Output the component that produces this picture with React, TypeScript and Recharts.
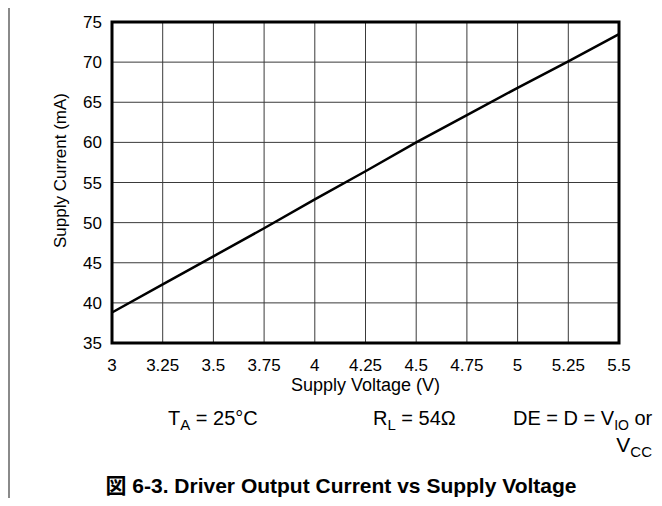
import { LineChart, Line, XAxis, YAxis, CartesianGrid, ReferenceArea } from 'recharts';

// supply voltage (V) and supply current (mA)
const voltage = [3, 3.25, 3.5, 3.75, 4, 4.25, 4.5, 4.75, 5, 5.25, 5.5];
const current = [38.8, 42.3, 45.8, 49.3, 52.9, 56.4, 60.0, 63.4, 66.8, 70.1, 73.5];
const currentTicks = [35, 40, 45, 50, 55, 60, 65, 70, 75];

const FONT = '"Liberation Sans", Arial, "Noto Sans CJK JP", sans-serif';

const sub = { fontSize: 15, position: 'relative' as const, top: 5 };
const subSmall = { fontSize: 14, position: 'relative' as const, top: 5 };

export default function App() {
  const dados = voltage.map((v, i) => ({ v, i: current[i] }));

  return (
    <div style={{ position: 'relative', width: 662, height: 506, margin: -8, background: '#fff', fontFamily: FONT, color: '#000', overflow: 'hidden' }}>
      <div style={{ position: 'absolute', left: 8, right: 0, top: 3, height: 2, background: '#8a8a8a' }} />
      <div style={{ position: 'absolute', left: 8, top: 0, width: 2, height: 506, background: '#8a8a8a' }} />

      <LineChart width={662} height={506} data={dados} margin={{ top: 22, right: 43, bottom: 133, left: 52 }} style={{ position: 'absolute', left: 0, top: 0 }}>
        <CartesianGrid stroke="#3a3a3a" strokeWidth={1} />
        <XAxis
          dataKey="v"
          type="number"
          domain={[3, 5.5]}
          ticks={voltage}
          interval={0}
          tickLine={false}
          axisLine={false}
          tickMargin={10}
          height={30}
          tick={{ fill: '#000', fontSize: 17, fontFamily: FONT }}
          label={{ value: 'Supply Voltage (V)', position: 'bottom', offset: 5, fill: '#000', fontSize: 18, fontFamily: FONT }}
        />
        <YAxis
          type="number"
          domain={[35, 75]}
          ticks={currentTicks}
          interval={0}
          tickLine={false}
          axisLine={false}
          tickMargin={4}
          width={60}
          tick={{ fill: '#000', fontSize: 17, fontFamily: FONT }}
          label={{
            content: ({ viewBox }: any) => {
              const cx = viewBox.x + 8;
              const cy = viewBox.y + viewBox.height / 2 - 12;
              return (
                <text x={cx} y={cy} transform={`rotate(-90, ${cx}, ${cy})`} textAnchor="middle" dominantBaseline="central" fontSize={17} fontFamily={FONT} fill="#000">
                  Supply Current (mA)
                </text>
              );
            },
          }}
        />
        <ReferenceArea x1={3} x2={5.5} y1={35} y2={75} fill="none" fillOpacity={0} stroke="#000" strokeWidth={3} ifOverflow="visible" />
        <Line type="linear" dataKey="i" stroke="#000" strokeWidth={2.5} dot={false} isAnimationActive={false} />
      </LineChart>

      <div style={{ position: 'absolute', left: 168, top: 408, fontSize: 20, lineHeight: '20px', whiteSpace: 'nowrap' }}>
        T<span style={sub}>A</span> = 25°C
      </div>
      <div style={{ position: 'absolute', left: 373, top: 408, fontSize: 20, lineHeight: '20px', whiteSpace: 'nowrap' }}>
        R<span style={sub}>L</span> = 54Ω
      </div>
      <div style={{ position: 'absolute', left: 513, top: 408, fontSize: 20, lineHeight: '20px', whiteSpace: 'nowrap' }}>
        DE = D = V<span style={subSmall}>IO</span> or
      </div>
      <div style={{ position: 'absolute', right: 10, top: 435, fontSize: 21, lineHeight: '20px', whiteSpace: 'nowrap' }}>
        V<span style={sub}>CC</span>
      </div>
      <div style={{ position: 'absolute', left: 0, width: 682, top: 476, fontSize: 21, lineHeight: '20px', fontWeight: 'bold', textAlign: 'center', whiteSpace: 'nowrap' }}>
        図 6-3. Driver Output Current vs Supply Voltage
      </div>
    </div>
  );
}
